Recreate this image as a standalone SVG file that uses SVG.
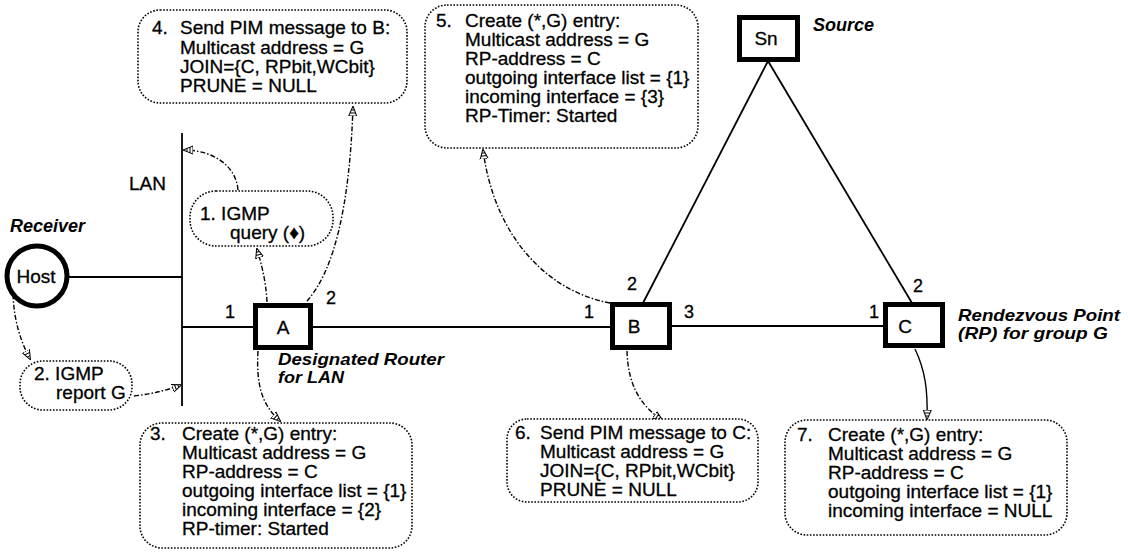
<svg xmlns="http://www.w3.org/2000/svg" width="1128" height="552" viewBox="0 0 1128 552">
<style>
text{font-family:"Liberation Sans","DejaVu Sans",sans-serif;fill:#000}
.t{font-size:19px;stroke:#000;stroke-width:0.3}
.lbl{font-size:18px;font-weight:bold;font-style:italic}
.lbl2{font-size:17px;font-weight:bold;font-style:italic}
.num{font-size:18px;stroke:#000;stroke-width:0.3}
.box{fill:#fff;stroke:#000;stroke-width:1.6;stroke-dasharray:1.6 1.6}
.rt{fill:#fff;stroke:#000;stroke-width:5}
.ln{fill:none;stroke:#000;stroke-width:1.8}
.dc{fill:none;stroke:#000;stroke-width:1.4;stroke-dasharray:5 2 1.5 2}
.sc{fill:none;stroke:#000;stroke-width:1.4}
</style>
<defs>
<marker id="ah" viewBox="0 0 10 10" refX="9" refY="5" markerWidth="10" markerHeight="10" markerUnits="userSpaceOnUse" orient="auto">
<path d="M0,1 L10,5 L0,9 Z M3,2.2 L3,7.8 M6,3.4 L6,6.6" fill="#fff" stroke="#000" stroke-width="1"/>
</marker>
</defs>
<g id="links">
<line class="ln" x1="182" y1="133" x2="182" y2="406"/>
<line class="ln" x1="67" y1="277" x2="182" y2="277"/>
<line class="ln" x1="182" y1="327" x2="254" y2="327"/>
<line class="ln" x1="312" y1="327" x2="611" y2="327"/>
<line class="ln" x1="671" y1="326" x2="885" y2="326"/>
<line class="ln" x1="768" y1="61" x2="643" y2="303"/>
<line class="ln" x1="768" y1="61" x2="912" y2="303"/>
<path class="dc" d="M238,190 C236,165 212,150 184,150" marker-end="url(#ah)"/>
<path class="dc" d="M267,302 C266,282 262,266 257,249" marker-end="url(#ah)"/>
<path class="dc" d="M307,301 Q348,255 353,107" marker-end="url(#ah)"/>
<path class="dc" d="M13,294 C14,320 20,340 30,359" marker-end="url(#ah)"/>
<path class="dc" d="M134,396 Q160,393 181,385" marker-end="url(#ah)"/>
<path class="dc" d="M258,351 C256,385 262,405 280,421" marker-end="url(#ah)"/>
<path class="dc" d="M610,303 C550,292 495,240 483,150" marker-end="url(#ah)"/>
<path class="dc" d="M627,351 C628,385 640,405 662,420" marker-end="url(#ah)"/>
<path class="sc" d="M915,349 C925,370 928,390 927,419" marker-end="url(#ah)"/>
</g>
<g id="lan"><text class="t" x="129" y="190">LAN</text></g>
<g id="host">
<circle cx="37" cy="276" r="30" fill="#fff" stroke="#000" stroke-width="5"/>
<text class="t" x="36" y="283" text-anchor="middle">Host</text>
<text class="lbl" x="10" y="232">Receiver</text>
</g>
<g id="routerA">
<rect class="rt" x="255.5" y="305.5" width="55" height="42"/>
<text class="t" x="283" y="334" text-anchor="middle">A</text>
<text class="num" x="225" y="318">1</text>
<text class="num" x="326" y="304">2</text>
<text class="lbl2"><tspan x="278" y="365" textLength="166" lengthAdjust="spacingAndGlyphs">Designated Router</tspan><tspan x="278" y="383" textLength="66" lengthAdjust="spacingAndGlyphs">for LAN</tspan></text>
</g>
<g id="routerB">
<rect class="rt" x="612.5" y="304.5" width="57" height="43"/>
<text class="t" x="634" y="333" text-anchor="middle">B</text>
<text class="num" x="584" y="318">1</text>
<text class="num" x="627" y="290">2</text>
<text class="num" x="684" y="318">3</text>
</g>
<g id="routerC">
<rect class="rt" x="885.5" y="304.5" width="57" height="41"/>
<text class="t" x="905" y="333" text-anchor="middle">C</text>
<text class="num" x="869" y="318">1</text>
<text class="num" x="913" y="292">2</text>
<text class="lbl2"><tspan x="958" y="321" textLength="162" lengthAdjust="spacingAndGlyphs">Rendezvous Point</tspan><tspan x="958" y="339" textLength="150" lengthAdjust="spacingAndGlyphs">(RP) for group G</tspan></text>
</g>
<g id="source">
<rect class="rt" x="739.5" y="17.5" width="58" height="42"/>
<text class="t" x="766" y="45" text-anchor="middle">Sn</text>
<text class="lbl" x="813" y="31">Source</text>
</g>
<g id="step1">
<rect class="box" x="190" y="191" width="143" height="55" rx="26"/>
<text class="t"><tspan x="200" y="220">1. IGMP</tspan><tspan x="230" y="239">query (♦)</tspan></text>
</g>
<g id="step2">
<rect class="box" x="20" y="361" width="112" height="49" rx="23"/>
<text class="t"><tspan x="34" y="380">2. IGMP</tspan><tspan x="56" y="399">report G</tspan></text>
</g>
<g id="step3">
<rect class="box" x="140" y="423" width="272" height="125" rx="22"/>
<text class="t"><tspan x="150" y="440">3.</tspan><tspan x="182" y="440">Create (*,G) entry:</tspan><tspan x="182" y="459">Multicast address = G</tspan><tspan x="182" y="478">RP-address = C</tspan><tspan x="182" y="497">outgoing interface list = {1}</tspan><tspan x="182" y="516">incoming interface = {2}</tspan><tspan x="182" y="535">RP-timer: Started</tspan></text>
</g>
<g id="step4">
<rect class="box" x="138" y="10" width="269" height="93" rx="22"/>
<text class="t"><tspan x="152" y="34">4.</tspan><tspan x="180" y="34">Send PIM message to B:</tspan><tspan x="180" y="54">Multicast address = G</tspan><tspan x="180" y="73">JOIN={C, RPbit,WCbit}</tspan><tspan x="180" y="92">PRUNE = NULL</tspan></text>
</g>
<g id="step5">
<rect class="box" x="425" y="5" width="273" height="143" rx="22"/>
<text class="t"><tspan x="436" y="27">5.</tspan><tspan x="465" y="27">Create (*,G) entry:</tspan><tspan x="465" y="46">Multicast address = G</tspan><tspan x="465" y="65">RP-address = C</tspan><tspan x="465" y="84">outgoing interface list = {1}</tspan><tspan x="465" y="103">incoming interface = {3}</tspan><tspan x="465" y="122">RP-Timer: Started</tspan></text>
</g>
<g id="step6">
<rect class="box" x="507" y="419" width="251" height="83" rx="20"/>
<text class="t"><tspan x="515" y="439">6.</tspan><tspan x="540" y="439">Send PIM message to C:</tspan><tspan x="540" y="458">Multicast address = G</tspan><tspan x="540" y="477">JOIN={C, RPbit,WCbit}</tspan><tspan x="540" y="496">PRUNE = NULL</tspan></text>
</g>
<g id="step7">
<rect class="box" x="785" y="420" width="282" height="115" rx="22"/>
<text class="t"><tspan x="797" y="441">7.</tspan><tspan x="828" y="441">Create (*,G) entry:</tspan><tspan x="828" y="460">Multicast address = G</tspan><tspan x="828" y="479">RP-address = C</tspan><tspan x="828" y="498">outgoing interface list = {1}</tspan><tspan x="828" y="517">incoming interface = NULL</tspan></text>
</g>
</svg>
